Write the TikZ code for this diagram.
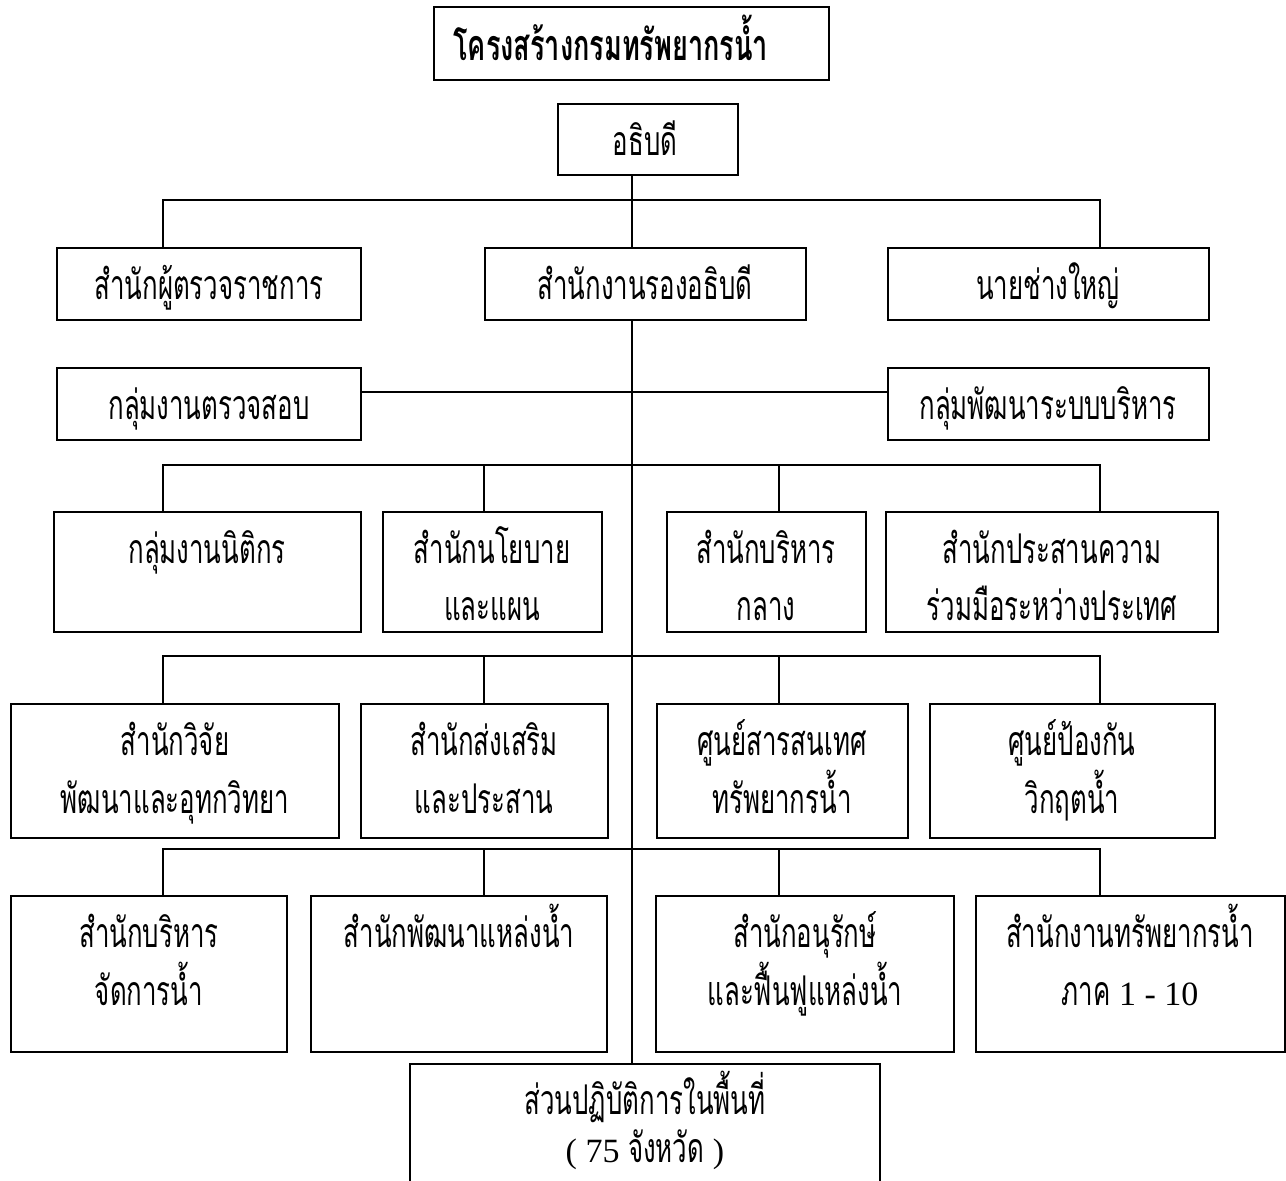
\documentclass[tikz,border=0pt]{standalone}
\usepackage{fontspec}
\usetikzlibrary{backgrounds}
\newfontfamily\thai[Script=Thai,FakeStretch=0.63]{Loma}
\newfontfamily\lat{Liberation Serif}
\newcommand\obox[5]{\node[box, minimum width={0.5*(#4-#2)}, minimum height={0.5*(#5-#3)}] (#1) at ({(#2+#4)/2},{(#3+#5)/2}) {};}
\newcommand\tx[4]{\node[lbl] (#1) at (#2,#3) {#4};}
\begin{document}
\begin{tikzpicture}[x=0.5pt,y=-0.5pt,
  box/.style={draw, line width=1pt, fill=white, inner sep=0pt, outer sep=0pt, rectangle},
  lbl/.style={inner sep=0pt, anchor=base, font=\thai\fontsize{20.5}{24}\selectfont},
  wire/.style={line width=1pt}]
\useasboundingbox (0,0) rectangle (1286,1180);
\clip (0,0) rectangle (1286,1180);
% boxes
\obox{title}{434}{7}{829}{80}
\obox{adb}{558}{104}{738}{175}
\obox{insp}{57}{248}{361}{320}
\obox{dep}{485}{248}{806}{320}
\obox{eng}{888}{248}{1209}{320}
\obox{audit}{57}{368}{361}{440}
\obox{mgmt}{888}{368}{1209}{440}
\obox{ra}{54}{512}{361}{632}
\obox{rb}{383}{512}{602}{632}
\obox{rc}{667}{512}{866}{632}
\obox{rd}{886}{512}{1218}{632}
\obox{sa}{11}{704}{339}{838}
\obox{sb}{361}{704}{608}{838}
\obox{sc}{657}{704}{908}{838}
\obox{sd}{930}{704}{1215}{838}
\obox{ua}{11}{896}{287}{1052}
\obox{ub}{311}{896}{607}{1052}
\obox{uc}{656}{896}{954}{1052}
\obox{ud}{976}{896}{1285}{1052}
\obox{bot}{410}{1064}{880}{1210}
% texts
\node[lbl, anchor=base west, font=\thai\bfseries\fontsize{21.5}{24}\selectfont] (ttitle) at (453,60) {โครงสร้างกรมทรัพยากรน้ำ};
\tx{tadb}{645}{155}{อธิบดี}
\tx{tinsp}{209}{299}{สำนักผู้ตรวจราชการ}
\tx{tdep}{645}{299}{สำนักงานรองอธิบดี}
\tx{teng}{1048}{299}{นายช่างใหญ่}
\tx{taudit}{209}{419}{กลุ่มงานตรวจสอบ}
\tx{tmgmt}{1048}{419}{กลุ่มพัฒนาระบบบริหาร}
\tx{tra}{207}{563}{กลุ่มงานนิติกร}
\tx{trb1}{492}{563}{สำนักนโยบาย}
\tx{trb2}{492}{620}{และแผน}
\tx{trc1}{766}{563}{สำนักบริหาร}
\tx{trc2}{766}{620}{กลาง}
\tx{trd1}{1052}{563}{สำนักประสานความ}
\tx{trd2}{1052}{620}{ร่วมมือระหว่างประเทศ}
\tx{tsa1}{175}{755}{สำนักวิจัย}
\tx{tsa2}{175}{813}{พัฒนาและอุทกวิทยา}
\tx{tsb1}{484}{755}{สำนักส่งเสริม}
\tx{tsb2}{484}{813}{และประสาน}
\tx{tsc1}{782}{755}{ศูนย์สารสนเทศ}
\tx{tsc2}{782}{813}{ทรัพยากรน้ำ}
\tx{tsd1}{1072}{755}{ศูนย์ป้องกัน}
\tx{tsd2}{1072}{813}{วิกฤตน้ำ}
\tx{tua1}{149}{947}{สำนักบริหาร}
\tx{tua2}{149}{1005}{จัดการน้ำ}
\tx{tub}{459}{947}{สำนักพัฒนาแหล่งน้ำ}
\tx{tuc1}{805}{947}{สำนักอนุรักษ์}
\tx{tuc2}{805}{1005}{และฟื้นฟูแหล่งน้ำ}
\tx{tud1}{1130}{947}{สำนักงานทรัพยากรน้ำ}
\tx{tud2}{1130}{1005}{ภาค {\lat\fontsize{17}{20}\selectfont 1 - 10}}
\tx{tbot1}{645}{1114}{ส่วนปฏิบัติการในพื้นที่}
\tx{tbot2}{645}{1162}{{\lat\fontsize{17}{20}\selectfont ( 75} จังหวัด {\lat\fontsize{17}{20}\selectfont )}}
% column and bar coordinates
\coordinate (cA) at (163,0);
\coordinate (cB) at (484,0);
\coordinate (cM) at (632,0);
\coordinate (cC) at (779,0);
\coordinate (cD) at (1100,0);
\coordinate (bar1) at (632,200);
\coordinate (r3) at (632,392);
\coordinate (bar3) at (632,465);
\coordinate (bar4) at (632,656);
\coordinate (bar5) at (632,849);
\begin{scope}[on background layer]
\draw[wire] (cM |- adb.south) -- (cM |- bot.north);
\draw[wire] (cA |- insp.north) -- (cA |- bar1) -- (cD |- bar1) -- (cD |- eng.north);
\draw[wire] (r3 -| audit.east) -- (r3 -| mgmt.west);
\draw[wire] (cA |- ra.north) -- (cA |- bar3) -- (cD |- bar3) -- (cD |- rd.north);
\draw[wire] (cB |- bar3) -- (cB |- rb.north);
\draw[wire] (cC |- bar3) -- (cC |- rc.north);
\draw[wire] (cA |- sa.north) -- (cA |- bar4) -- (cD |- bar4) -- (cD |- sd.north);
\draw[wire] (cB |- bar4) -- (cB |- sb.north);
\draw[wire] (cC |- bar4) -- (cC |- sc.north);
\draw[wire] (cA |- ua.north) -- (cA |- bar5) -- (cD |- bar5) -- (cD |- ud.north);
\draw[wire] (cB |- bar5) -- (cB |- ub.north);
\draw[wire] (cC |- bar5) -- (cC |- uc.north);
\end{scope}
\end{tikzpicture}
\end{document}
